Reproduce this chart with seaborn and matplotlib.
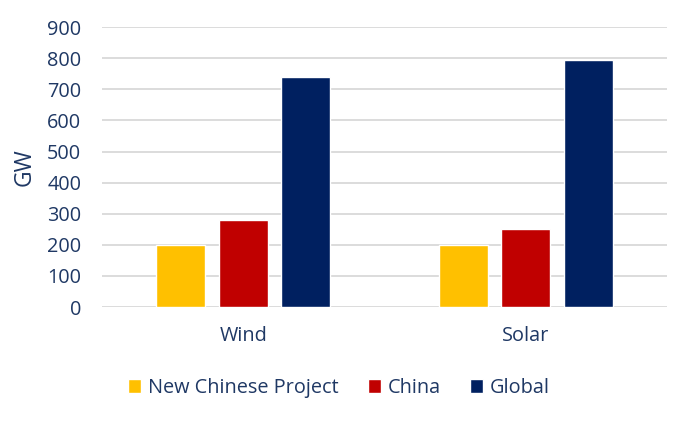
import pandas as pd
import seaborn as sns
import matplotlib.pyplot as plt

# values (GW)
categories = ["Wind", "Solar"]
series = ["New Chinese Project", "China", "Global"]
new_project = [200, 200]
china = [280, 250]
global_cap = [740, 795]
colors = ["#FFC000", "#C00000", "#002060"]
text_color = "#1F3864"

rows = []
for i, cat in enumerate(categories):
    rows.append({"tech": cat, "series": series[0], "gw": new_project[i]})
    rows.append({"tech": cat, "series": series[1], "gw": china[i]})
    rows.append({"tech": cat, "series": series[2], "gw": global_cap[i]})
df = pd.DataFrame(rows)

sns.set_theme(style="white")
plt.rcParams["font.family"] = ["Open Sans", "DejaVu Sans"]

fig = plt.figure(figsize=(7, 4.3), dpi=100)
ax = fig.add_axes([0.146, 0.286, 0.807, 0.651])

sns.barplot(data=df, x="tech", y="gw", hue="series", palette=colors,
            width=0.664, gap=0.216, saturation=1, ax=ax, legend=True)

ax.set_ylim(0, 900)
ax.set_yticks(range(0, 1000, 100))
ax.yaxis.grid(True, color="#D9D9D9", linewidth=1.3)
ax.set_axisbelow(True)
for s in ax.spines.values():
    s.set_visible(False)

fs = 14.3
ax.tick_params(axis="y", length=0, pad=15, labelsize=fs, labelcolor=text_color)
ax.tick_params(axis="x", length=0, pad=14, labelsize=fs, labelcolor=text_color)
ax.set_xlabel("")
ax.set_ylabel("GW", fontsize=16.5, color=text_color, labelpad=8)

# legend: one entry per box so spacing follows the original
handles, labels = ax.get_legend_handles_labels()
ax.get_legend().remove()
legend_x = [0.183, 0.526, 0.671]
for h, l, lx in zip(handles, labels, legend_x):
    leg = fig.legend([h], [l], loc="center left", bbox_to_anchor=(lx, 0.098),
                     frameon=False, fontsize=fs, handlelength=0.65,
                     handleheight=0.65, handletextpad=0.35, borderaxespad=0,
                     borderpad=0)
    for t in leg.get_texts():
        t.set_color(text_color)

plt.savefig("out.png", dpi=100)
